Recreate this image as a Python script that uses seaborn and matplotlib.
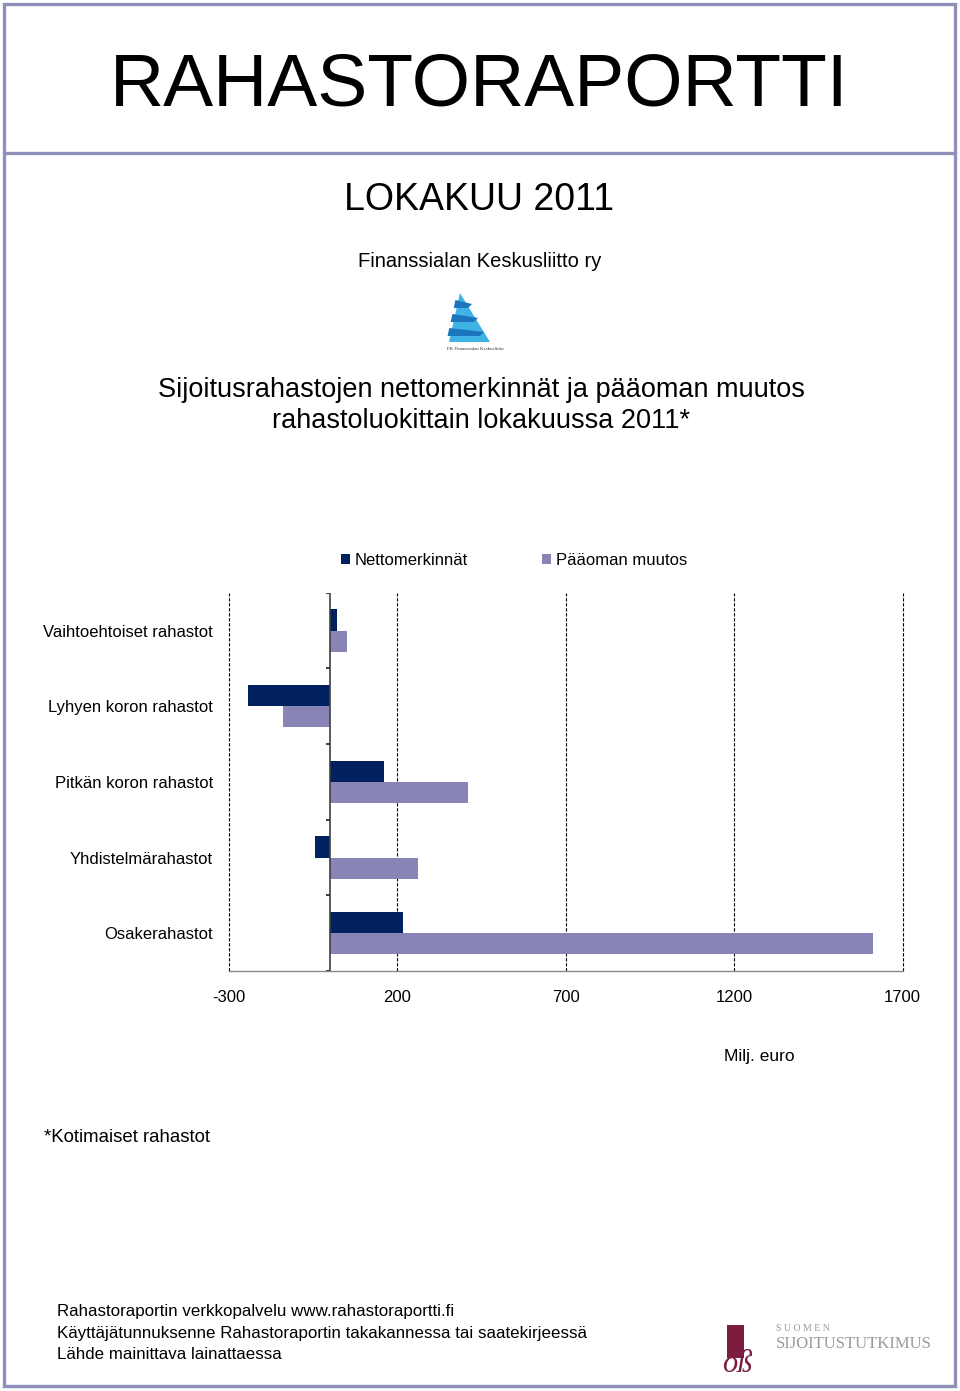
import matplotlib
matplotlib.use("Agg")
import matplotlib.pyplot as plt
from matplotlib.patches import Polygon, Rectangle, Patch
import numpy as np
import pandas as pd
import seaborn as sns

# data (Milj. euro)
categories = ["Vaihtoehtoiset rahastot", "Lyhyen koron rahastot", "Pitkän koron rahastot",
              "Yhdistelmärahastot", "Osakerahastot"]
nettomerkinnat = [22, -243, 161, -44, 217]
paaoman_muutos = [49, -141, 411, 261, 1612]
series_names = ["Nettomerkinnät", "Pääoman muutos"]
xticks = [-300, 200, 700, 1200, 1700]

NAVY = "#002060"
LILAC = "#8884b6"
FRAME = "#8f8fba"

df = pd.DataFrame({
    "category": categories * 2,
    "series": [series_names[0]] * 5 + [series_names[1]] * 5,
    "value": nettomerkinnat + paaoman_muutos,
})

sns.set_style("white")
plt.rcParams["font.family"] = ["Liberation Sans", "DejaVu Sans"]
plt.rcParams["text.color"] = "black"
plt.rcParams["xtick.color"] = "black"
plt.rcParams["ytick.color"] = "black"
plt.rcParams["axes.unicode_minus"] = False

W, H = 960, 1391
fig = plt.figure(figsize=(W / 100, H / 100), dpi=100)

# background layer in pixel coords for frame and logos
bg = fig.add_axes([0, 0, 1, 1], zorder=-1)
bg.set_xlim(0, W)
bg.set_ylim(H, 0)
bg.axis("off")
bg.add_patch(Rectangle((4, 4), W - 9, H - 9, fill=False, ec=FRAME, lw=2.4))
bg.plot([4, W - 5], [153, 153], color=FRAME, lw=2.4)

# FK logo (rough pyramid)
bg.add_patch(Polygon([(460, 293), (449, 342), (490, 342)], closed=True, fc="#3fb3e6", ec="none"))
for y0, y1, xr, col in [(300, 308, 472, "#1b75bc"), (314, 322, 478, "#1b75bc"), (328, 336, 484, "#1b75bc")]:
    bg.add_patch(Polygon([(457 - (y0 - 293) * 0.22, y0), (xr, y0 + 4), (xr - 4, y1), (457 - (y1 - 293) * 0.22, y1)],
                         closed=True, fc=col, ec="none"))
bg.text(475, 349, "FK Finanssialan Keskusliitto", fontsize=3.5, ha="center", va="center",
        family=["Liberation Serif", "DejaVu Serif"], color="#333333")

# Sijoitustutkimus logo
bg.add_patch(Rectangle((727, 1325), 17, 33, fc="#7b1c40", ec="none"))
bg.text(737, 1372, "oß", fontsize=22, style="italic", color="#7b1c40", ha="center", va="baseline",
        family=["Liberation Serif", "DejaVu Serif"])
bg.text(776, 1331, "S U O M E N", fontsize=7, color="#9a9a9a", ha="left", va="baseline",
        family=["Liberation Serif", "DejaVu Serif"])
bg.text(776, 1348, "SIJOITUSTUTKIMUS", fontsize=12, color="#9a9a9a", ha="left", va="baseline",
        family=["Liberation Serif", "DejaVu Serif"])


def ftext(x, y, s, **kw):
    fig.text(x / W, 1 - y / H, s, **kw)


ftext(479, 105, "RAHASTORAPORTTI", fontsize=54, ha="center", va="baseline")
ftext(479, 210, "LOKAKUU 2011", fontsize=27, ha="center", va="baseline")
ftext(480, 267, "Finanssialan Keskusliitto ry", fontsize=14.5, ha="center", va="baseline")
ftext(481, 397, "Sijoitusrahastojen nettomerkinnät ja pääoman muutos", fontsize=19.5, ha="center", va="baseline")
ftext(481, 428, "rahastoluokittain lokakuussa 2011*", fontsize=19.5, ha="center", va="baseline")
ftext(759, 1061, "Milj. euro", fontsize=12.5, ha="center", va="baseline")
ftext(44, 1142, "*Kotimaiset rahastot", fontsize=13.4, ha="left", va="baseline")
ftext(57, 1316, "Rahastoraportin verkkopalvelu www.rahastoraportti.fi", fontsize=12.2, ha="left", va="baseline")
ftext(57, 1338, "Käyttäjätunnuksenne Rahastoraportin takakannessa tai saatekirjeessä", fontsize=12.2,
      ha="left", va="baseline")
ftext(57, 1359, "Lähde mainittava lainattaessa", fontsize=12.2, ha="left", va="baseline")

# chart
ax = fig.add_axes([229 / W, 1 - 971 / H, (902.5 - 229) / W, (971 - 592.7) / H])
sns.barplot(data=df, y="category", x="value", hue="series", palette=[NAVY, LILAC], orient="h",
            width=0.556, saturation=1, linewidth=0, legend=False, ax=ax, zorder=3)
ax.set_xlim(xticks[0], xticks[-1])
ax.set_ylim(4.5, -0.5)
ax.set_xticks(xticks)
ax.set_xlabel("")
ax.set_ylabel("")
ax.xaxis.grid(True, linestyle=(0, (3, 1.5)), color="black", lw=0.8)
for gl in ax.get_xgridlines():
    gl.set_clip_on(False)
ax.set_axisbelow(True)
for s in ["top", "right", "left"]:
    ax.spines[s].set_visible(False)
ax.spines["bottom"].set_color("#888888")
ax.spines["bottom"].set_linewidth(1.0)
ax.tick_params(axis="x", direction="out", length=3, width=0.8, color="#888888", pad=11, labelsize=12)
ax.tick_params(axis="y", length=0, pad=11.5, labelsize=12)
ax.axvline(0, color="#404040", lw=1.2, zorder=4)
ax.hlines(np.arange(-0.5, 5), -13, 0, color="#303030", lw=1.3, zorder=4)

handles = [Patch(fc=NAVY, ec="none"), Patch(fc=LILAC, ec="none")]
fig.legend(handles, series_names, loc="center", bbox_to_anchor=(514 / W, 1 - 560 / H), ncol=2,
           frameon=False, fontsize=12, handlelength=0.55, handleheight=0.55, handletextpad=0.3,
           columnspacing=4.4)

fig.savefig("out.png", dpi=100)
